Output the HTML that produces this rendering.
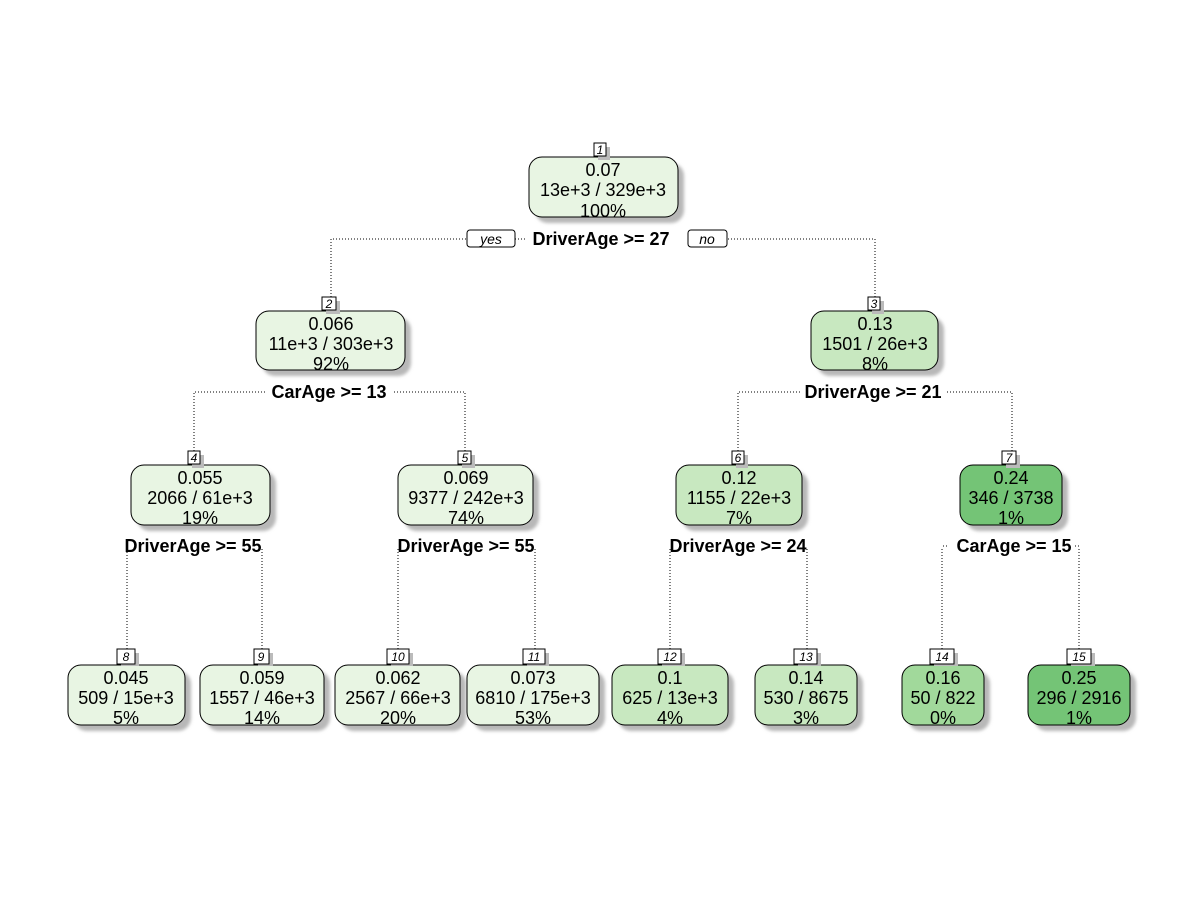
<!DOCTYPE html>
<html><head><meta charset="utf-8"><style>
html,body{margin:0;padding:0;background:#fff;}
svg{display:block;}
text{font-family:"Liberation Sans",Arial,sans-serif;}
.t{font-size:18px;text-anchor:middle;fill:#000;}
.s{font-size:18px;font-weight:bold;text-anchor:middle;fill:#000;}
.n{font-size:12px;font-style:italic;text-anchor:middle;fill:#000;}
.d{stroke:#000;stroke-width:1;stroke-dasharray:1,2;fill:none;}
</style></head><body>
<svg width="1200" height="900" viewBox="0 0 1200 900">
<defs><filter id="b" x="-20%" y="-20%" width="140%" height="140%"><feGaussianBlur stdDeviation="1.5"/></filter></defs>
<path class="d" d="M331 297 V239 H467 M515 239 H527 M875 297 V239 H727"/>
<path class="d" d="M194 451 V392 H265 M465 451 V392 H393"/>
<path class="d" d="M738 451 V392 H800 M1012 451 V392 H946"/>
<path class="d" d="M127 649 V548 M262 649 V548 M398 649 V548 M535 649 V548 M670 649 V548 M807 649 V548 M942 649 V548 M1079 649 V548"/>
<path class="d" d="M943 546 H947 M1075 546 H1079"/>
<rect x="467" y="230" width="48" height="17" rx="3" fill="#fff" stroke="#000"/>
<text x="491" y="244" class="t" style="font-style:italic;font-size:14px">yes</text>
<rect x="688" y="230" width="39" height="17" rx="3" fill="#fff" stroke="#000"/>
<text x="707" y="244" class="t" style="font-style:italic;font-size:14px">no</text>
<text x="601" y="245" class="s">DriverAge &gt;= 27</text>
<text x="329" y="398" class="s">CarAge &gt;= 13</text>
<text x="873" y="398" class="s">DriverAge &gt;= 21</text>
<text x="193" y="552" class="s">DriverAge &gt;= 55</text>
<text x="466" y="552" class="s">DriverAge &gt;= 55</text>
<text x="738" y="552" class="s">DriverAge &gt;= 24</text>
<text x="1014" y="552" class="s">CarAge &gt;= 15</text>
<g>
<g><rect x="535" y="163" width="149" height="60" rx="13" fill="#b8b8b8" filter="url(#b)"/><rect x="529" y="157" width="149" height="60" rx="13" fill="#e8f5e3" stroke="#000"/>
<rect x="598" y="147" width="12" height="13" fill="#bbb"/><rect x="594" y="143" width="12" height="13" fill="#fff" stroke="#000"/><text x="600" y="154" class="n">1</text>
<text x="603" y="176" class="t">0.07</text><text x="603" y="196" class="t">13e+3 / 329e+3</text><text x="603" y="217" class="t">100%</text></g>

<g><rect x="262" y="317" width="149" height="59" rx="13" fill="#b8b8b8" filter="url(#b)"/><rect x="256" y="311" width="149" height="59" rx="13" fill="#e8f5e3" stroke="#000"/>
<rect x="326" y="301" width="14" height="13" fill="#bbb"/><rect x="322" y="297" width="14" height="13" fill="#fff" stroke="#000"/><text x="329" y="308" class="n">2</text>
<text x="331" y="330" class="t">0.066</text><text x="331" y="350" class="t">11e+3 / 303e+3</text><text x="331" y="370" class="t">92%</text></g>

<g><rect x="817" y="317" width="127" height="59" rx="13" fill="#b8b8b8" filter="url(#b)"/><rect x="811" y="311" width="127" height="59" rx="13" fill="#c8e8c0" stroke="#000"/>
<rect x="872" y="301" width="12" height="13" fill="#bbb"/><rect x="868" y="297" width="12" height="13" fill="#fff" stroke="#000"/><text x="874" y="308" class="n">3</text>
<text x="875" y="330" class="t">0.13</text><text x="875" y="350" class="t">1501 / 26e+3</text><text x="875" y="370" class="t">8%</text></g>

<g><rect x="137" y="471" width="139" height="60" rx="13" fill="#b8b8b8" filter="url(#b)"/><rect x="131" y="465" width="139" height="60" rx="13" fill="#e8f5e3" stroke="#000"/>
<rect x="192" y="455" width="12" height="13" fill="#bbb"/><rect x="188" y="451" width="12" height="13" fill="#fff" stroke="#000"/><text x="194" y="462" class="n">4</text>
<text x="200" y="484" class="t">0.055</text><text x="200" y="504" class="t">2066 / 61e+3</text><text x="200" y="524" class="t">19%</text></g>

<g><rect x="404" y="471" width="135" height="60" rx="13" fill="#b8b8b8" filter="url(#b)"/><rect x="398" y="465" width="135" height="60" rx="13" fill="#e8f5e3" stroke="#000"/>
<rect x="462" y="455" width="13" height="13" fill="#bbb"/><rect x="458" y="451" width="13" height="13" fill="#fff" stroke="#000"/><text x="465" y="462" class="n">5</text>
<text x="466" y="484" class="t">0.069</text><text x="466" y="504" class="t">9377 / 242e+3</text><text x="466" y="524" class="t">74%</text></g>

<g><rect x="682" y="471" width="126" height="60" rx="13" fill="#b8b8b8" filter="url(#b)"/><rect x="676" y="465" width="126" height="60" rx="13" fill="#c8e8c0" stroke="#000"/>
<rect x="736" y="455" width="12" height="13" fill="#bbb"/><rect x="732" y="451" width="12" height="13" fill="#fff" stroke="#000"/><text x="738" y="462" class="n">6</text>
<text x="739" y="484" class="t">0.12</text><text x="739" y="504" class="t">1155 / 22e+3</text><text x="739" y="524" class="t">7%</text></g>

<g><rect x="966" y="471" width="102" height="60" rx="13" fill="#b8b8b8" filter="url(#b)"/><rect x="960" y="465" width="102" height="60" rx="13" fill="#74c476" stroke="#000"/>
<rect x="1006" y="455" width="14" height="13" fill="#bbb"/><rect x="1002" y="451" width="14" height="13" fill="#fff" stroke="#000"/><text x="1009" y="462" class="n">7</text>
<text x="1011" y="484" class="t">0.24</text><text x="1011" y="504" class="t">346 / 3738</text><text x="1011" y="524" class="t">1%</text></g>

<g><rect x="74" y="671" width="117" height="60" rx="13" fill="#b8b8b8" filter="url(#b)"/><rect x="68" y="665" width="117" height="60" rx="13" fill="#e8f5e3" stroke="#000"/>
<rect x="121" y="653" width="18" height="13" fill="#bbb"/><rect x="117" y="649" width="18" height="15" fill="#fff" stroke="#000"/><text x="126" y="661" class="n">8</text>
<text x="126" y="684" class="t">0.045</text><text x="126" y="704" class="t">509 / 15e+3</text><text x="126" y="724" class="t">5%</text></g>

<g><rect x="206" y="671" width="124" height="60" rx="13" fill="#b8b8b8" filter="url(#b)"/><rect x="200" y="665" width="124" height="60" rx="13" fill="#e8f5e3" stroke="#000"/>
<rect x="258" y="653" width="15" height="13" fill="#bbb"/><rect x="254" y="649" width="15" height="15" fill="#fff" stroke="#000"/><text x="261" y="661" class="n">9</text>
<text x="262" y="684" class="t">0.059</text><text x="262" y="704" class="t">1557 / 46e+3</text><text x="262" y="724" class="t">14%</text></g>

<g><rect x="341" y="671" width="125" height="60" rx="13" fill="#b8b8b8" filter="url(#b)"/><rect x="335" y="665" width="125" height="60" rx="13" fill="#e8f5e3" stroke="#000"/>
<rect x="391" y="653" width="22" height="13" fill="#bbb"/><rect x="387" y="649" width="22" height="15" fill="#fff" stroke="#000"/><text x="398" y="661" class="n">10</text>
<text x="398" y="684" class="t">0.062</text><text x="398" y="704" class="t">2567 / 66e+3</text><text x="398" y="724" class="t">20%</text></g>

<g><rect x="473" y="671" width="132" height="60" rx="13" fill="#b8b8b8" filter="url(#b)"/><rect x="467" y="665" width="132" height="60" rx="13" fill="#e8f5e3" stroke="#000"/>
<rect x="527" y="653" width="22" height="13" fill="#bbb"/><rect x="523" y="649" width="22" height="15" fill="#fff" stroke="#000"/><text x="534" y="661" class="n">11</text>
<text x="533" y="684" class="t">0.073</text><text x="533" y="704" class="t">6810 / 175e+3</text><text x="533" y="724" class="t">53%</text></g>

<g><rect x="618" y="671" width="116" height="60" rx="13" fill="#b8b8b8" filter="url(#b)"/><rect x="612" y="665" width="116" height="60" rx="13" fill="#c8e8c0" stroke="#000"/>
<rect x="662" y="653" width="23" height="13" fill="#bbb"/><rect x="658" y="649" width="23" height="15" fill="#fff" stroke="#000"/><text x="670" y="661" class="n">12</text>
<text x="670" y="684" class="t">0.1</text><text x="670" y="704" class="t">625 / 13e+3</text><text x="670" y="724" class="t">4%</text></g>

<g><rect x="761" y="671" width="102" height="60" rx="13" fill="#b8b8b8" filter="url(#b)"/><rect x="755" y="665" width="102" height="60" rx="13" fill="#c8e8c0" stroke="#000"/>
<rect x="798" y="653" width="23" height="13" fill="#bbb"/><rect x="794" y="649" width="23" height="15" fill="#fff" stroke="#000"/><text x="806" y="661" class="n">13</text>
<text x="806" y="684" class="t">0.14</text><text x="806" y="704" class="t">530 / 8675</text><text x="806" y="724" class="t">3%</text></g>

<g><rect x="908" y="671" width="82" height="60" rx="13" fill="#b8b8b8" filter="url(#b)"/><rect x="902" y="665" width="82" height="60" rx="13" fill="#a1d99b" stroke="#000"/>
<rect x="934" y="653" width="24" height="13" fill="#bbb"/><rect x="930" y="649" width="24" height="15" fill="#fff" stroke="#000"/><text x="942" y="661" class="n">14</text>
<text x="943" y="684" class="t">0.16</text><text x="943" y="704" class="t">50 / 822</text><text x="943" y="724" class="t">0%</text></g>

<g><rect x="1034" y="671" width="102" height="60" rx="13" fill="#b8b8b8" filter="url(#b)"/><rect x="1028" y="665" width="102" height="60" rx="13" fill="#74c476" stroke="#000"/>
<rect x="1071" y="653" width="24" height="13" fill="#bbb"/><rect x="1067" y="649" width="24" height="15" fill="#fff" stroke="#000"/><text x="1079" y="661" class="n">15</text>
<text x="1079" y="684" class="t">0.25</text><text x="1079" y="704" class="t">296 / 2916</text><text x="1079" y="724" class="t">1%</text></g>
</g>
</svg>
</body></html>
